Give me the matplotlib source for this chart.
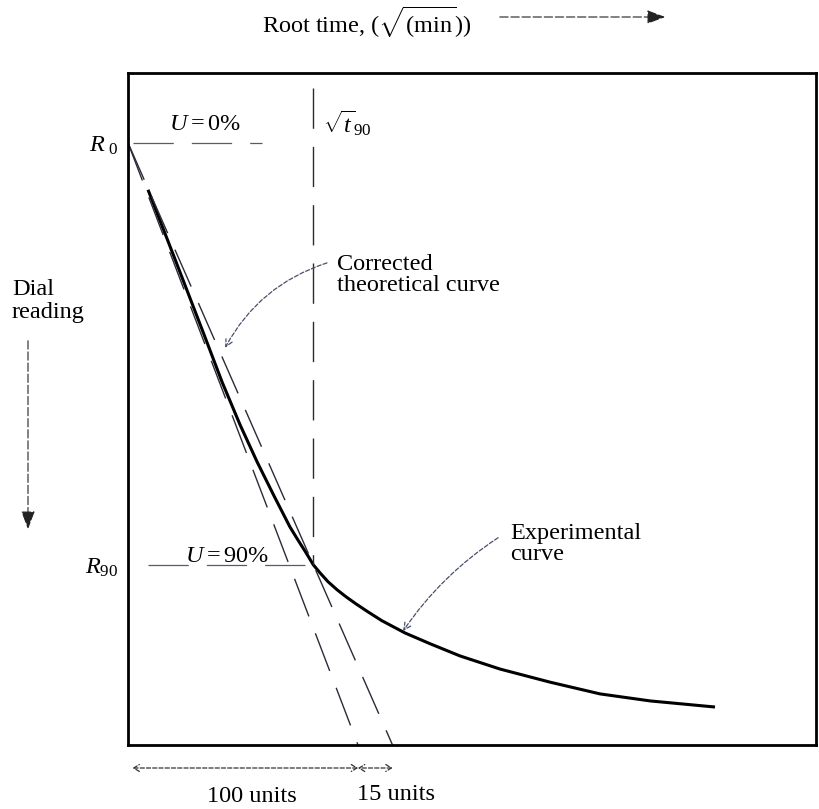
import matplotlib.pyplot as plt
from matplotlib.patches import FancyArrowPatch

plt.rcParams['font.family'] = ['Liberation Serif', 'DejaVu Serif']
plt.rcParams['mathtext.fontset'] = 'custom'
plt.rcParams['mathtext.rm'] = 'Liberation Serif'
plt.rcParams['mathtext.it'] = 'Liberation Serif:italic'
plt.rcParams['lines.scale_dashes'] = False

# root time in arbitrary units (100 units to where the theoretical line meets the base)
# dial reading scaled so that R0 -> 0 and R90 -> 90
root_t = [8.7, 20.9, 32.6, 40.9, 48.7, 56.1, 63.5, 70.4, 73.9, 77.4, 80.6,
          83.5, 87.0, 90.9, 94.8, 99.1, 104.3, 110.4, 120.4, 131.3, 144.3,
          161.7, 183.5, 205.2, 227.0, 255.2]
dial = [10.0, 25.4, 40.3, 51.0, 60.1, 68.0, 75.3, 81.9, 84.7, 87.4, 90.0,
        91.7, 93.6, 95.3, 96.8, 98.3, 100.0, 101.9, 104.5, 106.8, 109.4,
        112.2, 115.0, 117.5, 119.0, 120.3]

r0, r90 = 0, 90
sqrt_t90 = 80.6
dial_base = 128.4
theory_x = [0, 100]
taylor_x = [0, 115]
x_max = 299.1
dial_top = -14.9

u0_span = [2.2, 58.3]
u90_span = [8.7, sqrt_t90]
t90_span = [-11.7, r90]

FS = 17.5
DASH = (0, (29, 13))
DCOL = '#2a2b38'

fig = plt.figure(figsize=(8.19, 8.09), dpi=100)
ax = fig.add_axes([0.1563, 0.0791, 0.84, 0.8307])
ax.set_xlim(0, x_max)
ax.set_ylim(dial_base, dial_top)
for s in ax.spines.values():
    s.set_linewidth(2.0)
ax.set_xticks([])
ax.set_yticks([r0, r90], labels=[r'$R_{\ 0}$', r'$R_{90}$'])
ax.tick_params(axis='y', length=0, pad=7, labelsize=FS)

# experimental curve
ax.plot(root_t, dial, color='black', lw=2.2, solid_capstyle='butt',
        solid_joinstyle='round')

# corrected theoretical line and the 1.15x line
ax.plot(theory_x, [r0, dial_base], color=DCOL, lw=1.0, ls=DASH)
ax.plot(taylor_x, [r0, dial_base], color=DCOL, lw=1.0, ls=DASH)

# sqrt(t90) marker and U levels
ax.plot([sqrt_t90, sqrt_t90], t90_span, color=DCOL, lw=1.0, ls=DASH)
ax.plot(u0_span, [r0, r0], color='#555a70', lw=0.9, ls=DASH)
ax.plot(u90_span, [r90, r90], color='#555a70', lw=0.9, ls=DASH)

ax.text(33.5, -3.9, r'$U = 0\%$', fontsize=FS, ha='center', va='center')
ax.text(43.0, 88.3, r'$U = 90\%$', fontsize=FS, ha='center', va='center')
ax.text(84.8, -4.3, r'$\sqrt{t}_{90}$', fontsize=FS, ha='left', va='center')

ax.text(90.9, 28.2, 'Corrected\ntheoretical curve', fontsize=FS,
        ha='left', va='center', linespacing=0.95)
ax.text(166.1, 85.5, 'Experimental\ncurve', fontsize=FS,
        ha='left', va='center', linespacing=1.0)

pointer = dict(arrowstyle='->,head_length=0.5,head_width=0.25', color='#4a4f6a',
               lw=0.9, ls=(0, (3, 1.5)), shrinkA=0, shrinkB=0)
ax.annotate('', xy=(42.2, 43.7), xytext=(86.5, 25.6),
            arrowprops=dict(pointer, connectionstyle='arc3,rad=0.2'))
ax.annotate('', xy=(119.6, 104.1), xytext=(160.9, 84.2),
            arrowprops=dict(pointer, connectionstyle='arc3,rad=0.1'))

# axis captions outside the frame
fig.text(262 / 819, 1 - 22 / 809, r'Root time, ($\sqrt{\mathrm{(min}}$))',
         fontsize=FS, ha='left', va='center')
fig.text(12 / 819, 1 - 301 / 809, 'Dial\nreading', fontsize=FS,
         ha='left', va='center', linespacing=1.1)

head = dict(arrowstyle='-|>,head_length=0.8,head_width=0.3', color='#222',
            lw=0.8, ls=(0, (6, 2)), mutation_scale=14, transform=fig.transFigure)
fig.add_artist(FancyArrowPatch((497 / 819, 1 - 17 / 809), (668 / 819, 1 - 17 / 809), **head))
fig.add_artist(FancyArrowPatch((28 / 819, 1 - 338 / 809), (28 / 819, 1 - 532 / 809), **head))

# dimension arrows under the base
dim = dict(arrowstyle='<->,head_length=0.4,head_width=0.25', color='#333',
           lw=0.9, ls=(0, (3, 1.5)), shrinkA=0, shrinkB=0)
row = 1 - 768 / 809
ax.annotate('', xy=(theory_x[0] + 2, row), xytext=(theory_x[1], row),
            xycoords=('data', 'figure fraction'), textcoords=('data', 'figure fraction'),
            arrowprops=dim, annotation_clip=False)
ax.annotate('', xy=(theory_x[1], row), xytext=(taylor_x[1], row),
            xycoords=('data', 'figure fraction'), textcoords=('data', 'figure fraction'),
            arrowprops=dim, annotation_clip=False)
ax.annotate('100 units', xy=(53.9, 1 - 797 / 809), xycoords=('data', 'figure fraction'),
            fontsize=FS, ha='center', va='center', annotation_clip=False)
ax.annotate('15 units', xy=(116.5, 1 - 795 / 809), xycoords=('data', 'figure fraction'),
            fontsize=FS, ha='center', va='center', annotation_clip=False)

fig.savefig('out.png', dpi=100)
